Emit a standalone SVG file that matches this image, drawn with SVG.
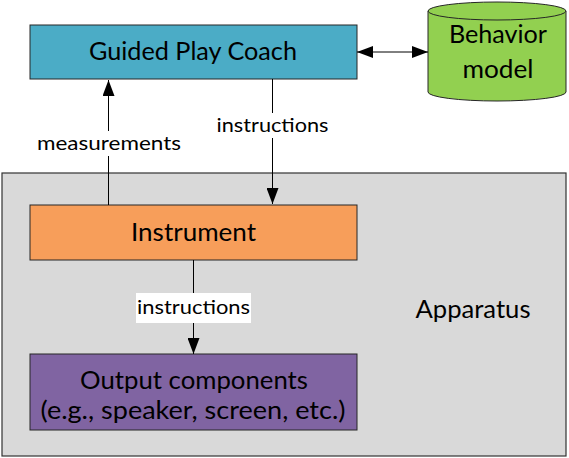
<svg xmlns="http://www.w3.org/2000/svg" width="569" height="458" viewBox="0 0 569 458">
<style>
text{font-family:Lato,"Open Sans","Liberation Sans",sans-serif;fill:#000}
.big{font-size:24.5px}
.lbl{font-size:20px}
.box{stroke:#262626;stroke-width:1}
.ln{stroke:#000;stroke-width:1;fill:none}
</style>
<defs>
<marker id="ah" viewBox="0 0 16 12" refX="16" refY="6" markerWidth="16" markerHeight="12" markerUnits="userSpaceOnUse" orient="auto-start-reverse">
<path d="M0,0 L16,6 L0,12 Z" fill="#000"/>
</marker>
</defs>
<g id="apparatus">
<rect x="2" y="173" width="564" height="283" fill="#D9D9D9" stroke="#333" stroke-width="1.2"/>
<text class="big" x="473" y="318" text-anchor="middle" textLength="115" lengthAdjust="spacingAndGlyphs">Apparatus</text>
</g>
<g id="coach">
<rect class="box" x="30" y="25" width="327" height="54" fill="#4BACC6"/>
<text class="big" x="193" y="60" text-anchor="middle" textLength="208" lengthAdjust="spacingAndGlyphs">Guided Play Coach</text>
</g>
<g id="behavior">
<path d="M428,11 L428,92 A69,9 0 0 0 566,92 L566,11 Z" fill="#92D050" stroke="#262626"/>
<ellipse cx="497" cy="11" rx="69" ry="9" fill="#92D050" stroke="#262626"/>
<text class="big" x="498" y="43" text-anchor="middle" textLength="98" lengthAdjust="spacingAndGlyphs">Behavior</text>
<text class="big" x="498" y="78" text-anchor="middle" textLength="71" lengthAdjust="spacingAndGlyphs">model</text>
</g>
<g id="instrument">
<rect class="box" x="30" y="205" width="327" height="55" fill="#F79E5A"/>
<text class="big" x="193.5" y="241" text-anchor="middle" textLength="125" lengthAdjust="spacingAndGlyphs">Instrument</text>
</g>
<g id="output">
<rect class="box" x="30" y="354" width="327" height="76" fill="#8064A2"/>
<text class="big" x="194" y="389" text-anchor="middle" textLength="228" lengthAdjust="spacingAndGlyphs">Output components</text>
<text class="big" x="193" y="419" text-anchor="middle" textLength="305" lengthAdjust="spacingAndGlyphs">(e.g., speaker, screen, etc.)</text>
</g>
<g id="connectors">
<line class="ln" x1="357" y1="52" x2="428" y2="52" marker-start="url(#ah)" marker-end="url(#ah)"/>
<line class="ln" x1="108.5" y1="205" x2="108.5" y2="80" marker-end="url(#ah)"/>
<rect x="34" y="131" width="150" height="25" fill="#fff"/>
<text class="lbl" x="109" y="150" text-anchor="middle" textLength="144" lengthAdjust="spacingAndGlyphs">measurements</text>
<line class="ln" x1="272.5" y1="79" x2="272.5" y2="204" marker-end="url(#ah)"/>
<rect x="214" y="113" width="118" height="25" fill="#fff"/>
<text class="lbl" x="272.5" y="132" text-anchor="middle" textLength="112" lengthAdjust="spacingAndGlyphs">instructions</text>
<line class="ln" x1="193.5" y1="260" x2="193.5" y2="354" marker-end="url(#ah)"/>
<rect x="136" y="293" width="115" height="30" fill="#fff"/>
<text class="lbl" x="193.5" y="314" text-anchor="middle" textLength="113" lengthAdjust="spacingAndGlyphs">instructions</text>
</g>
</svg>
